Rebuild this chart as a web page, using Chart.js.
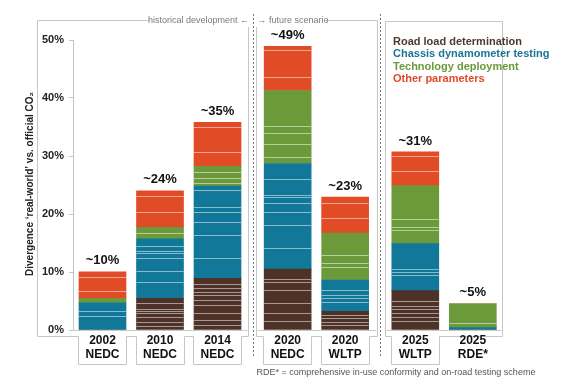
<!DOCTYPE html>
<html>
<head>
<meta charset="utf-8">
<script src="https://cdn.jsdelivr.net/npm/chart.js@4/dist/chart.umd.min.js"></script>
<style>
  html, body { margin: 0; padding: 0; background: #fff; }
  #wrap { width: 562px; height: 389px; position: relative; }
</style>
</head>
<body>
<div id="wrap"><canvas id="chart"></canvas></div>
<script>
// Data (percent divergence)
const categories = [['2002', 'NEDC'], ['2010', 'NEDC'], ['2014', 'NEDC'], ['2020', 'NEDC'], ['2020', 'WLTP'], ['2025', 'WLTP'], ['2025', 'RDE*']];
const groupOf = [0, 0, 0, 1, 1, 2, 2];
const roadLoad = [0, 5.45, 8.9, 10.5, 3.2, 6.8, 0];
const chassis = [4.7, 10.25, 15.9, 18.2, 5.4, 8.1, 0.4];
const technology = [0.75, 2.0, 3.4, 12.6, 8.1, 10.0, 4.1];
const other = [4.6, 6.3, 7.6, 7.6, 6.2, 5.8, 0];
const totalLabels = ['~10%', '~24%', '~35%', '~49%', '~23%', '~31%', '~5%'];
// light sub-component lines inside each bar (value where each line sits)
const stripes = [
    [9.2, 6.7, 3.3, 2.5],
    [23.1, 20.4, 16.7, 14.4, 13.7, 13.3, 12.4, 10.2, 8.3, 4.6, 3.7, 3.2, 2.9, 2.3, 1.4, 0.7],
    [35.0, 30.7, 27.3, 26.2, 25.3, 24.1, 21.2, 20.4, 18.7, 16.4, 12.4, 8.0, 7.2, 6.6, 6.0, 5.2, 4.3, 3.0, 1.7, 0.9],
    [48.2, 43.6, 35.2, 33.9, 32.0, 29.9, 26.1, 23.3, 23.0, 21.9, 20.4, 18.1, 14.1, 8.8, 8.3, 6.9, 4.6, 3.0, 1.55],
    [21.9, 19.3, 12.9, 11.6, 10.9, 6.9, 6.0, 5.5, 4.9, 2.6, 2.0, 1.4, 0.9],
    [30.0, 27.4, 19.1, 17.7, 17.3, 10.6, 10.0, 9.5, 5.05, 4.2, 3.6, 3.0, 2.3, 1.6],
    [1.15]
];
const yTicks = [0, 10, 20, 30, 40, 50];

const series = [
    { label: 'Road load determination', values: roadLoad, color: '#4e3227', text: '#4a3a32' },
    { label: 'Chassis dynamometer testing', values: chassis, color: '#11789a', text: '#1a7592' },
    { label: 'Technology deployment', values: technology, color: '#6c9a3a', text: '#6a9a3c' },
    { label: 'Other parameters', values: other, color: '#e14c26', text: '#e04a28' }
];

const FONT = '"Liberation Sans", Arial, sans-serif';
Chart.defaults.font.family = FONT;

// slot position on the x axis: a small extra gap between the three groups
const slot = categories.map((c, i) => i + groupOf[i] * 0.22);

function barEl(chart, i) {
    return chart.getDatasetMeta(0).data[i];
}

const decorations = {
    id: 'decorations',
    beforeDraw(chart) {
        const ctx = chart.ctx;
        ctx.save();
        ctx.fillStyle = '#fff';
        ctx.fillRect(0, 0, chart.width, chart.height);
        ctx.restore();
    },
    afterDatasetsDraw(chart) {
        const ctx = chart.ctx;
        const y = chart.scales.y;
        ctx.save();
        ctx.strokeStyle = 'rgba(255,255,255,0.5)';
        ctx.lineWidth = 1.2;
        stripes.forEach((list, i) => {
            const el = barEl(chart, i);
            const l = el.x - el.width / 2, r = el.x + el.width / 2;
            ctx.beginPath();
            list.forEach(v => {
                const py = Math.round(y.getPixelForValue(v)) + 0.5;
                ctx.moveTo(l, py);
                ctx.lineTo(r, py);
            });
            ctx.stroke();
        });
        ctx.restore();
    },
    afterDraw(chart) {
        const ctx = chart.ctx;
        const y = chart.scales.y;
        const area = chart.chartArea;
        const base = y.getPixelForValue(0);
        const els = categories.map((c, i) => barEl(chart, i));
        const left = i => els[i].x - els[i].width / 2;
        const right = i => els[i].x + els[i].width / 2;
        ctx.save();

        // value labels above bars
        ctx.fillStyle = '#111';
        ctx.font = 'bold 13px ' + FONT;
        ctx.textAlign = 'center';
        ctx.textBaseline = 'middle';
        totalLabels.forEach((t, i) => {
            const total = series.reduce((s, d) => s + d.values[i], 0);
            ctx.fillText(t, els[i].x, y.getPixelForValue(total) - 11);
        });

        // frames round the three groups
        const frameTop = 20, frameBottom = 336, boxBottom = 364;
        ctx.strokeStyle = '#c6c6c6';
        ctx.lineWidth = 1;
        const bottomPath = (x0, x1, boxes) => {
            ctx.lineTo(x0, frameBottom + 0.5);
            boxes.forEach(i => {
                const b0 = Math.round(left(i)) - 0.5, b1 = Math.round(right(i)) + 0.5;
                ctx.lineTo(b0, frameBottom + 0.5);
                ctx.lineTo(b0, boxBottom + 0.5);
                ctx.lineTo(b1, boxBottom + 0.5);
                ctx.lineTo(b1, frameBottom + 0.5);
            });
            ctx.lineTo(x1, frameBottom + 0.5);
        };
        const f1r = Math.round(right(2)) + 7.5;
        const f2l = Math.round(left(3)) - 7.5, f2r = Math.round(right(4)) + 8.5;
        const f3l = Math.round(left(5)) - 6.5, f3r = Math.round(right(6)) + 6.5;
        ctx.beginPath();
        ctx.moveTo(150, frameTop + 0.5);
        ctx.lineTo(37.5, frameTop + 0.5);
        ctx.lineTo(37.5, frameBottom + 0.5);
        bottomPath(37.5, f1r, [0, 1, 2]);
        ctx.lineTo(f1r, 27);
        ctx.moveTo(f2l, 27);
        bottomPath(f2l, f2r, [3, 4]);
        ctx.lineTo(f2r, frameTop + 0.5);
        ctx.lineTo(324, frameTop + 0.5);
        ctx.moveTo(f3r, frameTop + 1.5);
        ctx.lineTo(f3l, frameTop + 1.5);
        bottomPath(f3l, f3r, [5]);
        ctx.lineTo(f3r, frameTop + 1.5);
        ctx.stroke();

        // baselines at 0%
        ctx.strokeStyle = '#c9c9c9';
        ctx.beginPath();
        [[area.left, f1r - 1], [f2l + 1, f2r - 1], [f3l + 1, f3r - 1]].forEach(([a, b]) => {
            ctx.moveTo(a, Math.round(base) + 0.5);
            ctx.lineTo(b, Math.round(base) + 0.5);
        });
        ctx.stroke();

        // dashed separators
        ctx.strokeStyle = '#777';
        ctx.setLineDash([2, 2]);
        ctx.beginPath();
        [[2, 3], [4, 5]].forEach(([a, b]) => {
            const x = Math.round((right(a) + left(b)) / 2) + 0.5;
            ctx.moveTo(x, 14);
            ctx.lineTo(x, 358);
        });
        ctx.stroke();
        ctx.setLineDash([]);

        // header texts
        ctx.fillStyle = '#7a7a7a';
        ctx.font = '9px ' + FONT;
        ctx.textBaseline = 'middle';
        ctx.textAlign = 'right';
        ctx.fillText('historical development \u2190', f1r + 0.5, 21);
        ctx.textAlign = 'left';
        ctx.fillText('\u2192 future scenario', f2l + 1, 21);

        // category labels
        ctx.fillStyle = '#111';
        ctx.font = 'bold 12px ' + FONT;
        ctx.textAlign = 'center';
        categories.forEach((c, i) => {
            ctx.fillText(c[0], els[i].x, 341);
            ctx.fillText(c[1], els[i].x, 354.5);
        });

        // legend
        ctx.font = 'bold 11px ' + FONT;
        ctx.textAlign = 'left';
        series.forEach((s, k) => {
            ctx.fillStyle = s.text;
            ctx.fillText(s.label, 393, 42 + k * 12.4);
        });

        // y axis title
        ctx.save();
        ctx.translate(30, 184);
        ctx.rotate(-Math.PI / 2);
        ctx.fillStyle = '#222';
        ctx.font = 'bold 10px ' + FONT;
        ctx.textAlign = 'center';
        ctx.fillText('Divergence \u2018real-world\u2019 vs. official CO\u2082', 0, 0);
        ctx.restore();

        // footnote
        ctx.fillStyle = '#555';
        ctx.font = '9px ' + FONT;
        ctx.textAlign = 'left';
        ctx.fillText('RDE* = comprehensive in-use conformity and on-road testing scheme', f2l, 373);

        ctx.restore();
    }
};

new Chart(document.getElementById('chart'), {
    type: 'bar',
    data: {
        datasets: series.map(s => ({
            label: s.label,
            data: s.values.map((v, i) => ({ x: slot[i], y: v })),
            backgroundColor: s.color,
            borderWidth: 0,
            barThickness: 47
        }))
    },
    options: {
        responsive: true,
        maintainAspectRatio: false,
        animation: false,
        devicePixelRatio: 1,
        layout: { padding: { left: 0, right: 59, top: 40, bottom: 59 } },
        plugins: { legend: { display: false }, tooltip: { enabled: false } },
        scales: {
            x: { type: 'linear', stacked: true, display: false, offset: false, min: -0.513, max: 6.965 },
            y: {
                stacked: true,
                min: 0,
                max: 50,
                afterBuildTicks: s => { s.ticks = yTicks.map(v => ({ value: v })); },
                afterFit: s => { s.width = 73; },
                ticks: {
                    callback: v => v + '%',
                    color: '#222',
                    font: { size: 11, weight: 'bold' },
                    padding: 5
                },
                grid: { drawOnChartArea: false, tickLength: 4, color: '#c4c4c4' },
                border: { color: '#c4c4c4' }
            }
        }
    },
    plugins: [decorations]
});
</script>
</body>
</html>
